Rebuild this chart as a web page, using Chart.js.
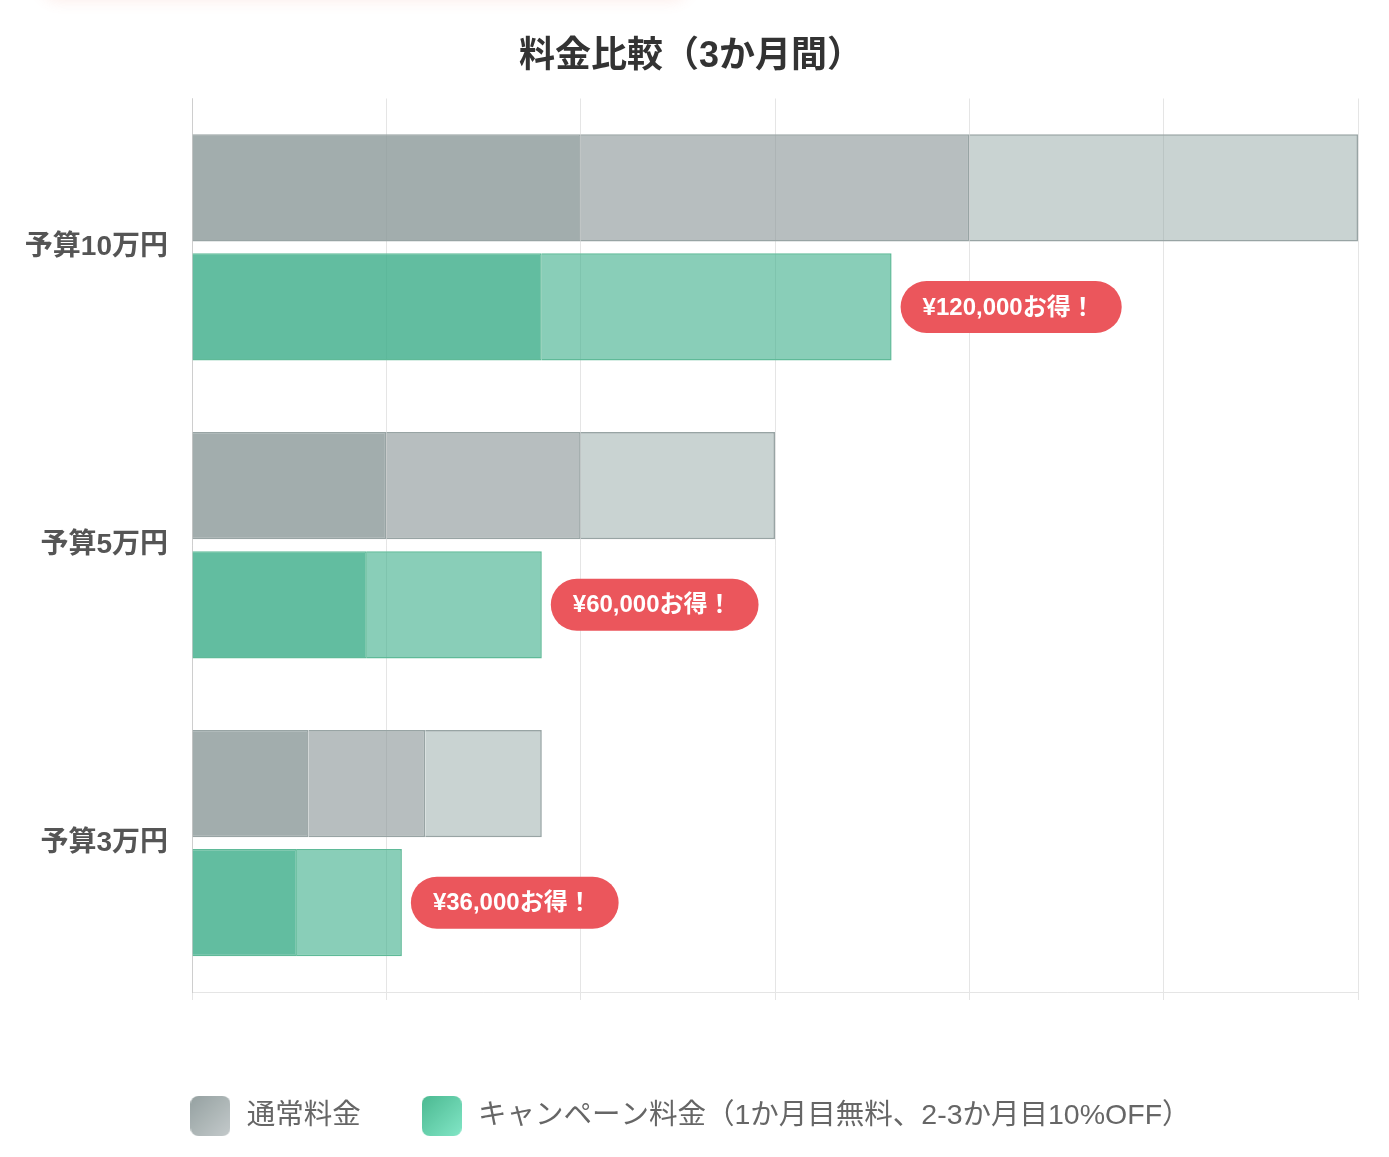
<!DOCTYPE html>
<html lang="ja">
<head>
    <meta charset="utf-8" />
    <meta name="viewport" content="width=device-width, initial-scale=1" />
    <title>料金比較（3か月間）</title>
    <script src="https://cdn.jsdelivr.net/npm/chart.js@4.4.0/dist/chart.umd.min.js"></script>
    <style>
        body { margin: 0; background: #fff; }
        .glow {
            position: absolute; left: 40px; top: -40px; width: 650px; height: 40px;
            border-radius: 20px; background: #fff;
            box-shadow: 0 2px 14px rgba(235, 120, 100, 0.12);
        }
        .wrap { position: absolute; left: 0; top: 0; width: 1365px; height: 1157px; }
    </style>
</head>
<body>
    <div class="glow"></div>
    <div class="wrap"><canvas id="chart"></canvas></div>
    <script>
        const categories = ['予算10万円', '予算5万円', '予算3万円'];
        const normalMonth1 = [100000, 50000, 30000];
        const normalMonth2 = [100000, 50000, 30000];
        const normalMonth3 = [100000, 50000, 30000];
        const campaignMonth2 = [90000, 45000, 27000];
        const campaignMonth3 = [90000, 45000, 27000];
        const savings = [120000, 60000, 36000];
        const xTicks = [0, 50000, 100000, 150000, 200000, 250000, 300000];
        const legendLabels = ['通常料金', 'キャンペーン料金（1か月目無料、2-3か月目10%OFF）'];

        const FONT = "'Liberation Sans', 'Noto Sans CJK JP', sans-serif";

        // rounded gradient squares for the legend
        function makeIcon(from, to) {
            const c = document.createElement('canvas');
            c.width = 40;
            c.height = 40;
            const g = c.getContext('2d');
            const grad = g.createLinearGradient(0, 0, 40, 40);
            grad.addColorStop(0, from);
            grad.addColorStop(1, to);
            g.fillStyle = grad;
            g.beginPath();
            g.roundRect(0, 0, 40, 40, 8);
            g.fill();
            return c;
        }
        const legendIcons = [
            makeIcon('#95a1a1', '#c4cacb'),
            makeIcon('#4bb991', '#82e6c6')
        ];

        const savingsBadges = {
            id: 'savingsBadges',
            afterLayout(chart) {
                // nudge the legend row and title a bit to the right
                chart.legend.left += 21;
                chart.titleBlock.left += 24;
            },
            afterDatasetsDraw(chart) {
                const ctx = chart.ctx;
                const meta = chart.getDatasetMeta(chart.data.datasets.length - 1);
                ctx.save();
                ctx.font = 'bold 24px ' + FONT;
                ctx.textBaseline = 'middle';
                ctx.textAlign = 'left';
                meta.data.forEach((bar, i) => {
                    const text = '¥' + savings[i].toLocaleString('en-US') + 'お得！';
                    const h = 52;
                    const w = ctx.measureText(text).width + 49;
                    const x = bar.x + 9;
                    ctx.fillStyle = '#eb565c';
                    ctx.beginPath();
                    ctx.roundRect(x, bar.y - h / 2, w, h, h / 2);
                    ctx.fill();
                    ctx.fillStyle = '#fff';
                    ctx.fillText(text, x + 22, bar.y + 1);
                });
                ctx.restore();
            }
        };

        const grayBorder = '#98a4a4';
        const greenBorder = '#5fba98';

        const ctx = document.getElementById('chart').getContext('2d');
        new Chart(ctx, {
            type: 'bar',
            data: {
                labels: categories,
                datasets: [
                    { label: '通常1', data: normalMonth1, stack: 'normal', backgroundColor: 'rgba(139,152,152,0.8)', borderColor: grayBorder },
                    { label: '通常2', data: normalMonth2, stack: 'normal', backgroundColor: 'rgba(135,147,148,0.6)', borderColor: grayBorder },
                    { label: '通常3', data: normalMonth3, stack: 'normal', backgroundColor: 'rgba(135,157,155,0.45)', borderColor: grayBorder },
                    { label: 'キャンペーン2', data: campaignMonth2, stack: 'campaign', backgroundColor: 'rgba(59,173,136,0.8)', borderColor: greenBorder },
                    { label: 'キャンペーン3', data: campaignMonth3, stack: 'campaign', backgroundColor: 'rgba(59,173,136,0.6)', borderColor: greenBorder }
                ]
            },
            options: {
                indexAxis: 'y',
                responsive: true,
                maintainAspectRatio: false,
                animation: false,
                layout: { padding: { top: 0, right: 7, bottom: 16.75, left: 0 } },
                datasets: {
                    bar: {
                        borderWidth: 1.5,
                        categoryPercentage: 0.8,
                        barPercentage: 0.9
                    }
                },
                scales: {
                    x: {
                        stacked: true,
                        min: xTicks[0],
                        max: xTicks[xTicks.length - 1],
                        ticks: { display: false, stepSize: xTicks[1] - xTicks[0] },
                        grid: { color: 'rgba(0,0,0,0.1)' }
                    },
                    y: {
                        stacked: true,
                        grid: { display: false, drawTicks: false },
                        ticks: {
                            padding: 24,
                            color: '#555',
                            font: { family: FONT, size: 28, weight: 'bold' }
                        },
                        afterFit(scale) { scale.width = 192; }
                    }
                },
                plugins: {
                    title: {
                        display: true,
                        text: '料金比較（3か月間）',
                        color: '#333',
                        font: { family: FONT, size: 36, weight: 'bold' },
                        padding: { top: 35, bottom: 20.3 }
                    },
                    legend: {
                        position: 'bottom',
                        title: { display: true, text: '', font: { size: 10 }, padding: { top: 30.75, bottom: 0 } },
                        labels: {
                            usePointStyle: true,
                            pointStyleWidth: 44,
                            padding: 59,
                            color: '#666',
                            font: { family: FONT, size: 28.5 },
                            generateLabels: () => legendLabels.map((text, i) => ({
                                text: text,
                                pointStyle: legendIcons[i],
                                fillStyle: 'transparent',
                                strokeStyle: 'transparent',
                                lineWidth: 0,
                                fontColor: '#666',
                                hidden: false,
                                datasetIndex: i
                            }))
                        }
                    },
                    tooltip: { enabled: false }
                }
            },
            plugins: [savingsBadges]
        });
    </script>
</body>
</html>
